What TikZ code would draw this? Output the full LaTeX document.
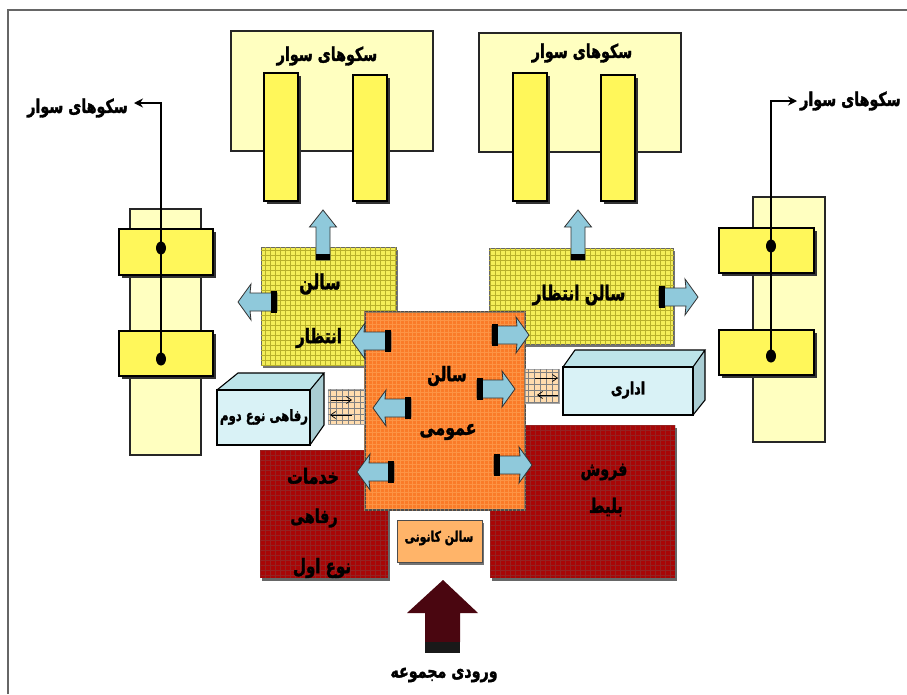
\documentclass[tikz,border=0pt]{standalone}
\usepackage{fontspec}
\usetikzlibrary{arrows.meta,shadows,shapes.geometric}
\TeXXeTstate=1
\newfontfamily\arabicfont[Script=Arabic,FakeBold=1.6,FakeStretch=0.75]{DejaVu Sans Bold}
\newcommand{\farsi}[1]{\beginR #1\endR}
\newcommand{\pxbox}[6]{%
  \pgfmathsetmacro\bxw{#5-#3}\pgfmathsetmacro\bxh{#6-#4}%
  \node[#1,minimum width=\bxw pt,minimum height=\bxh pt,inner sep=0pt] (#2) at ({(#3+#5)/2},{(#4+#6)/2}) {};}
\newcommand{\texturegrid}[2]{\draw[#2] (#1.north west) grid (#1.south east);}
\definecolor{palefill}{HTML}{FFFFC0}
\definecolor{barfill}{HTML}{FFF75A}
\definecolor{waitfill}{HTML}{F4EE58}
\definecolor{waitgrid}{HTML}{B8B02A}
\definecolor{hallfill}{HTML}{FA7B28}
\definecolor{redfill}{HTML}{A80606}
\definecolor{focusfill}{HTML}{FFB469}
\definecolor{boxfill}{HTML}{D9F2F6}
\definecolor{boxtop}{HTML}{BDE4E9}
\definecolor{boxside}{HTML}{A9CDD3}
\definecolor{flowfill}{HTML}{8FC9DB}
\definecolor{linkfill}{HTML}{FFDCAE}
\definecolor{entryfill}{HTML}{4A0610}
\tikzset{
  palebox/.style={draw=black!85,line width=1.2pt,fill=palefill},
  barbox/.style={draw=black,line width=1.1pt,fill=barfill,general shadow={shadow xshift=2.5pt,shadow yshift=-2.5pt,fill=black!80}},
  waitbox/.style={draw=black!60,line width=1pt,fill=waitfill,general shadow={shadow xshift=2pt,shadow yshift=-3pt,fill=black!55}},
  hallbox/.style={draw=black!70,line width=2.5pt,fill=hallfill},
  redbox/.style={fill=redfill,general shadow={shadow xshift=2pt,shadow yshift=-3pt,fill=black!60}},
  focusbox/.style={draw=black!70,line width=1pt,fill=focusfill,general shadow={shadow xshift=2pt,shadow yshift=-3pt,fill=black!55}},
  frontbox/.style={draw=black,line width=1.1pt,fill=boxfill},
  linkbox/.style={draw=black!35,line width=.6pt,fill=linkfill},
  label/.style={font=\arabicfont\fontsize{#1}{#1}\selectfont,text=black,inner sep=0pt,align=center},
  label/.default=19,
  riser/.style={line width=1.6pt,draw=black},
  tipped/.style={riser,-{Stealth[length=9pt,width=9pt]}},
  linkarrow/.style={line width=.7pt,draw=black,-{Straight Barb[length=5pt,width=7pt]}},
  dot/.style={ellipse,fill=black,inner sep=0pt,minimum width=10pt,minimum height=13pt},
  pics/flowh/.style={code={
    \draw[draw=black!80,line width=.8pt,fill=flowfill]
      (0,-9) -- (#1-12,-9) -- (#1-13,-18) -- (#1,0) -- (#1-13,18) -- (#1-12,9) -- (0,9) -- cycle;
    \fill[black] (0,-11) rectangle (6,11);
  }},
  pics/flowv/.style={code={
    \draw[draw=black!80,line width=.8pt,fill=flowfill]
      (0,-7) -- (#1-17,-7) -- (#1-17,-13.5) -- (#1,0) -- (#1-17,13.5) -- (#1-17,7) -- (0,7) -- cycle;
    \fill[black] (0,-7) rectangle (6,7);
  }},
}
\begin{document}
\begin{tikzpicture}[x=1pt,y=-1pt]
\useasboundingbox (0,0) rectangle (907,694);
\fill[white] (0,0) rectangle (907,694);
\draw[black!60,line width=1.6pt] (8,694) -- (8,10) -- (907,10);

% top platforms
\pxbox{palebox}{topL}{231}{31}{433}{151}
\pxbox{palebox}{topR}{479}{33}{681}{152}
\pxbox{barbox}{barA}{264}{73}{298}{201}
\pxbox{barbox}{barB}{353}{75}{387}{201}
\pxbox{barbox}{barC}{513}{73}{547}{201}
\pxbox{barbox}{barD}{601}{75}{635}{201}
\node[label] (topLtext) at (327,56) {\farsi{سکوهای سوار}};
\node[label] (topRtext) at (582,53) {\farsi{سکوهای سوار}};

% side platforms
\pxbox{palebox}{sideL}{130}{209}{201}{455}
\pxbox{palebox}{sideR}{753}{197}{825}{442}
\pxbox{barbox}{sideLa}{119}{229}{213}{275}
\pxbox{barbox}{sideLb}{119}{331}{213}{376}
\pxbox{barbox}{sideRa}{719}{228}{814}{273}
\pxbox{barbox}{sideRb}{719}{330}{814}{375}
\node[dot] (dotLa) at (161,248) {};
\node[dot] (dotLb) at (161,359) {};
\node[dot] (dotRa) at (771,246) {};
\node[dot] (dotRb) at (771,356) {};
\node[label,anchor=east] (sideLtext) at (128,108) {\farsi{سکوهای سوار}};
\node[label,anchor=west] (sideRtext) at (800,101) {\farsi{سکوهای سوار}};
\coordinate (cornerL) at (161,103);
\coordinate (cornerR) at (771,101);
\coordinate (tipL) at (134,103);
\coordinate (tipR) at (797,101);
\draw[riser] (dotLb.center) -- (dotLa.center);
\draw[tipped] (dotLa.center) -- (cornerL) -- (tipL);
\draw[riser] (dotRb.center) -- (dotRa.center);
\draw[tipped] (dotRa.center) -- (cornerR) -- (tipR);

% waiting halls
\pxbox{waitbox}{waitL}{261}{247}{396}{365}
\pxbox{waitbox}{waitR}{489}{248}{673}{344}
\texturegrid{waitL}{step=5pt,waitgrid,line width=.3pt}
\texturegrid{waitR}{step=5pt,waitgrid,line width=.3pt}
\node[label=21] (waitLa) at (320,284) {\farsi{سالن}};
\node[label=20] (waitLb) at (319,338) {\farsi{انتظار}};
\node[label=20.5] (waitRtext) at (579,295) {\farsi{سالن انتظار}};

% red blocks
\pxbox{redbox}{comfort}{260}{450}{388}{578}
\pxbox{redbox}{ticket}{490}{425}{675}{578}
\texturegrid{comfort}{step=5pt,black!60,line width=.3pt,opacity=.3}
\texturegrid{ticket}{step=5pt,black!60,line width=.3pt,opacity=.3}
\node[label=21] (comfortA) at (313,476) {\farsi{خدمات}};
\node[label=19] (comfortB) at (314,518) {\farsi{رفاهی}};
\node[label=20] (comfortC) at (322,568) {\farsi{نوع اول}};
\node[label=19] (ticketA) at (604,472) {\farsi{فروش}};
\node[label=20] (ticketB) at (606,507) {\farsi{بلیط}};

% central hall
\pxbox{hallbox}{hall}{365}{312}{525}{510}
\texturegrid{hall}{step=4pt,focusfill,line width=.3pt,opacity=.45}
\node[label=20] (hallA) at (447,376) {\farsi{سالن}};
\node[label=21] (hallB) at (448,432) {\farsi{عمومی}};

% focus hall
\pxbox{focusbox}{focus}{397}{520}{482}{562}
\node[label=14.5] (focusText) at (439,538) {\farsi{سالن کانونی}};

% service boxes
\fill[boxtop] (217,390) -- (238,373) -- (324,373) -- (310,390) -- cycle;
\fill[boxside] (310,390) -- (324,373) -- (324,425) -- (310,445) -- cycle;
\pxbox{frontbox}{serviceL}{217}{390}{310}{445}
\draw[black,line width=1.1pt] (217,390) -- (238,373) -- (324,373) -- (310,390) (324,373) -- (324,425) -- (310,445);
\node[label=15.5] (serviceLtext) at (264,417) {\farsi{رفاهی نوع دوم}};
\fill[boxtop] (563,367) -- (575,350) -- (705,350) -- (693,367) -- cycle;
\fill[boxside] (693,367) -- (705,350) -- (705,400) -- (693,415) -- cycle;
\pxbox{frontbox}{serviceR}{563}{367}{693}{415}
\draw[black,line width=1.1pt] (563,367) -- (575,350) -- (705,350) -- (693,367) (705,350) -- (705,400) -- (693,415);
\node[label=17] (serviceRtext) at (628,390) {\farsi{اداری}};

% links between service boxes and hall
\pxbox{linkbox}{linkL}{328}{389}{364}{424}
\pxbox{linkbox}{linkR}{525}{369}{559}{403}
\texturegrid{linkL}{step=6pt,black!50,line width=.3pt}
\texturegrid{linkR}{step=6pt,black!50,line width=.3pt}
\coordinate (linkLa) at (331,400); \coordinate (linkLb) at (352,400);
\coordinate (linkLc) at (352,415); \coordinate (linkLd) at (330,415);
\coordinate (linkRa) at (535,378); \coordinate (linkRb) at (558,378);
\coordinate (linkRc) at (558,395); \coordinate (linkRd) at (537,395);
\draw[linkarrow] (linkLa) -- (linkLb);
\draw[linkarrow] (linkLc) -- (linkLd);
\draw[linkarrow] (linkRa) -- (linkRb);
\draw[linkarrow] (linkRc) -- (linkRd);

% flow arrows
\pic (f1) at (323,260) [rotate=90] {flowv=50};
\pic (f2) at (578,260) [rotate=90] {flowv=50};
\pic (f3) at (277,302) [rotate=180] {flowh=39};
\pic (f4) at (391,341) [rotate=180] {flowh=39};
\pic (f5) at (659,297) {flowh=39};
\pic (f6) at (492,335) {flowh=37};
\pic (f7) at (477,389) {flowh=38};
\pic (f8) at (411,408) [rotate=180] {flowh=38};
\pic (f9) at (394,472) [rotate=180] {flowh=37};
\pic (f10) at (494,465) {flowh=38};

% entry arrow
\fill[entryfill] (443,580) -- (478,613) -- (460,613) -- (460,642) -- (425,642) -- (425,613) -- (407,613) -- cycle;
\fill[black!90] (425,642) rectangle (460,653);
\node[label=19] (entryText) at (444,675) {\farsi{ورودی مجموعه}};
\end{tikzpicture}
\end{document}
